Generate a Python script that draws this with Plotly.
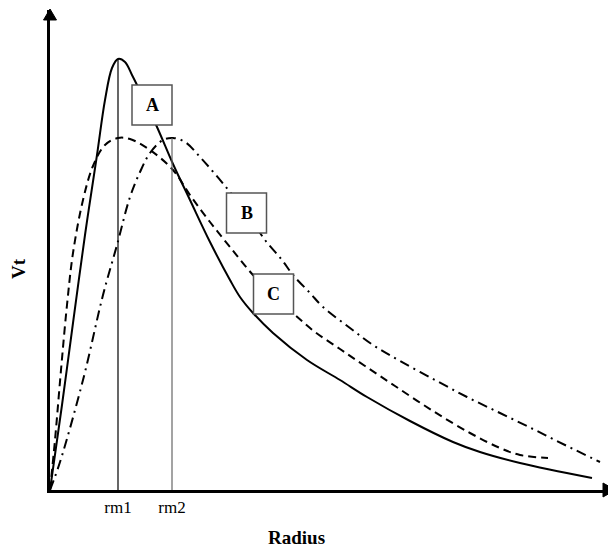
import plotly.graph_objects as go

# ---- data (arbitrary units) ----
radius_A = [0, 12, 23, 35, 47, 55, 62, 68, 75, 82, 88, 107, 123, 140, 160, 180, 190, 203, 223, 257, 290, 317, 360, 403, 430, 470, 542]
vt_A     = [0, 85, 167, 255, 335, 390, 422, 431, 428, 415, 403, 363, 326, 290, 248, 210, 193, 177, 157, 130, 110, 93, 69, 48, 38, 27, 12]

radius_C = [0, 5, 11, 17, 23, 33, 43, 55, 68, 80, 100, 123, 140, 160, 180, 203, 225, 245, 265, 290, 315, 345, 383, 420, 450, 470, 498]
vt_C     = [0, 50, 120, 185, 237, 290, 324, 345, 352, 351, 340, 320, 295, 268, 243, 215, 193, 175, 158, 141, 124, 104, 79, 57, 42, 35, 32]

radius_B = [0, 10, 33, 53, 67, 80, 90, 100, 113, 123, 135, 150, 165, 180, 200, 215, 232, 243, 260, 273, 300, 323, 350, 385, 417, 450, 483, 515, 550]
vt_B     = [0, 28, 110, 195, 245, 293, 318, 337, 350, 352, 348, 333, 316, 298, 272, 250, 230, 215, 197, 183, 162, 145, 129, 110, 93, 77, 61, 45, 28]

rm_positions = [68, 122]
rm_labels = ["rm1", "rm2"]
rm_tops = [431, 352]

box_labels = ["A", "B", "C"]
box_centers_x = [102, 196.5, 223.5]
box_centers_y = [385, 277, 196]

X_MAX, Y_MAX = 566, 480
FONT = "Liberation Serif"

fig = go.Figure()

fig.add_trace(go.Scatter(x=radius_A, y=vt_A, mode="lines", line_shape="spline",
                         line=dict(color="black", width=2), hoverinfo="skip"))
fig.add_trace(go.Scatter(x=radius_C, y=vt_C, mode="lines", line_shape="spline",
                         line=dict(color="black", width=2, dash="8px,5px"), hoverinfo="skip"))
fig.add_trace(go.Scatter(x=radius_B, y=vt_B, mode="lines", line_shape="spline",
                         line=dict(color="black", width=2, dash="10px,5px,2px,5px"), hoverinfo="skip"))

# rm vertical lines
fig.add_trace(go.Scatter(x=[rm_positions[0]] * 2, y=[0, rm_tops[0]], mode="lines",
                         line=dict(color="black", width=1.2), hoverinfo="skip"))
fig.add_trace(go.Scatter(x=[rm_positions[1]] * 2, y=[0, rm_tops[1]], mode="lines",
                         line=dict(color="#666666", width=1.2), hoverinfo="skip"))

# label boxes
half = 20
for lab, cx, cy in zip(box_labels, box_centers_x, box_centers_y):
    fig.add_shape(type="rect", xref="x", yref="y", x0=cx - half, x1=cx + half,
                  y0=cy - half, y1=cy + half, line=dict(color="#555555", width=1.5),
                  fillcolor="white", layer="above")
    fig.add_annotation(x=cx, y=cy, xref="x", yref="y", text="<b>%s</b>" % lab,
                       showarrow=False, font=dict(family=FONT, size=18, color="black"))

# arrowheads (pixel-derived paper units; plot area is 566 x 480 px)
W, H = 566.0, 480.0
fig.add_shape(type="path", xref="paper", yref="paper",
              path="M %f,%f L %f,%f L %f,%f Z" % (-6.5 / W, 470 / H, 6.5 / W, 470 / H, 0, 481 / H),
              fillcolor="black", line=dict(color="black", width=1))
fig.add_shape(type="path", xref="paper", yref="paper",
              path="M %f,%f L %f,%f L %f,%f Z" % (553 / W, 7 / H, 553 / W, -7 / H, 565.5 / W, 0),
              fillcolor="black", line=dict(color="black", width=1))

# axis titles
fig.add_annotation(xref="paper", yref="paper", x=(296 - 50) / W, y=(490 - 537) / H,
                   xanchor="center", yanchor="middle",
                   text="<b>Radius</b>", showarrow=False,
                   font=dict(family=FONT, size=19, color="black"))
fig.add_annotation(xref="paper", yref="paper", x=(18 - 50) / W, y=(490 - 269) / H,
                   xanchor="center", yanchor="middle",
                   text="<b>Vt</b>", showarrow=False, textangle=-90,
                   font=dict(family=FONT, size=19, color="black"))

# the page body has an 8px margin, so the figure is drawn 8px smaller and shifted
fig.update_layout(
    width=608, height=541,
    margin=dict(l=42, r=0, t=2, b=59),
    paper_bgcolor="white", plot_bgcolor="white",
    showlegend=False,
    xaxis=dict(range=[0, X_MAX], showgrid=False, zeroline=False,
               showline=True, linecolor="black", linewidth=3,
               tickvals=rm_positions, ticktext=rm_labels, ticks="", ticklen=0,
               tickfont=dict(family=FONT, size=17, color="black")),
    yaxis=dict(range=[0, Y_MAX], showgrid=False, zeroline=False,
               showline=True, linecolor="black", linewidth=3,
               showticklabels=False, ticks=""),
)

fig.write_html("out.html")
